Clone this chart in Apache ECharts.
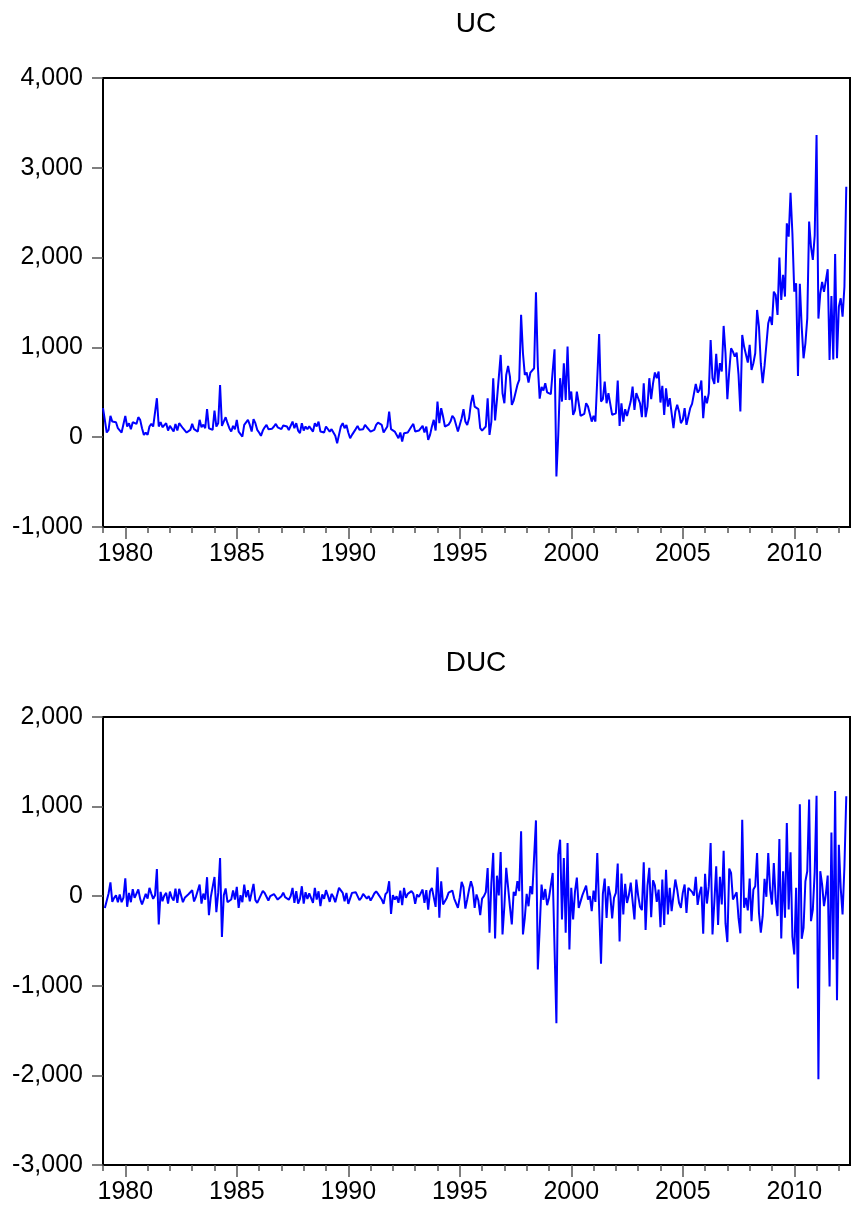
<!DOCTYPE html>
<html>
<head>
<meta charset="utf-8">
<title>UC / DUC</title>
<script src="https://cdn.jsdelivr.net/npm/echarts@6/dist/echarts.min.js"></script>
<style>
  html, body { margin: 0; padding: 0; background: #fff; }
  #chart { width: 851px; height: 1209px; }
</style>
</head>
<body>
<div id="chart"></div>
<script>
// monthly data, 1979M01 .. 2012M05
const startYear = 1979;

// UC, one row per year
const ucValues = [
  323, 190, 52, 82, 237, 174, 156, 167, 100, 119, 52, 37,
  237, 119, 156, 89, 167, 148, 148, 223, 193, 100, 26, 52,
  26, 119, 148, 119, 130, 434, 119, 167, 111, 119, 156, 74,
  126, 111, 63, 148, 74, 156, 167, 100, 82, 52, 74, 82,
  148, 89, 82, 63, 193, 111, 140, 100, 312, 100, 89, 82,
  297, 119, 156, 582, 126, 137, 223, 156, 100, 63, 126, 89,
  193, 63, 74, 7, 137, 126, 193, 137, 63, 200, 156, 82,
  52, 15, 74, 110, 137, 89, 89, 95, 119, 148, 110, 90,
  90, 130, 120, 120, 80, 82, 174, 100, 156, 74, 45, 156,
  74, 119, 89, 120, 137, 63, 156, 119, 174, 63, 82, 52,
  119, 126, 63, 89, 82, 15, -67, 26, 119, 156, 100, 137,
  52, -11, 26, 45, 90, 126, 82, 63, 89, 137, 111, 111,
  63, 52, 82, 137, 163, 174, 137, 52, 74, 119, 286, 89,
  100, 63, 63, -11, 52, -48, 45, 26, 52, 63, 119, 148,
  63, 82, 74, 52, 126, 52, 119, -30, 26, 119, 193, 74,
  397, 156, 323, 230, 119, 100, 140, 174, 237, 211, 193, 63,
  52, 211, 312, 174, 137, 211, 378, 471, 341, 360, 312, 100,
  74, 74, 119, 434, 26, 174, 657, 186, 415, 423, 916, 490,
  378, 694, 794, 675, 360, 408, 415, 582, 638, 1362, 935, 694,
  720, 608, 720, 742, 768, 1614, 796, 430, 560, 520, 600, 500,
  480, 480, 740, 979, -438, 26, 657, 397, 824, 415, 1009, 415,
  508, 249, 300, 508, 378, 237, 249, 260, 378, 341, 341, 174,
  237, 174, 657, 1150, 397, 423, 620, 378, 489, 497, 249, 230,
  267, 631, 126, 378, 174, 312, 237, 249, 400, 564, 304, 490,
  497, 378, 223, 601, 223, 341, 657, 423, 600, 720, 657, 731,
  386, 571, 249, 545, 341, 434, 267, 100, 286, 360, 286, 156,
  193, 323, 137, 230, 323, 371, 378, 594, 497, 527, 631, 211,
  460, 378, 490, 1083, 657, 594, 928, 608, 824, 731, 1239, 935,
  423, 731, 990, 953, 898, 942, 700, 286, 1139, 1009, 990, 831,
  1028, 749, 824, 935, 1417, 1232, 824, 601, 794, 787, 1269, 1343,
  1250, 1621, 1584, 1362, 2000, 1529, 1807, 1566, 2382, 2233, 2723, 2271,
  1621, 1714, 683, 1708, 1232, 879, 1046, 1324, 2402, 2123, 1974, 2243,
  3365, 1321, 1600, 1730, 1619, 1640, 1870, 861, 1572, 866, 2041, 879,
  1454, 1547, 1343, 1675, 2790
];

// DUC = D(UC), starts at 1979M02
const ducValues = [
  -133, -138, 30, 155, -63, -18, 11, -67, 19, -67, -15,
  200, -118, 37, -67, 78, -19, 0, 75, -30, -93, -74, 26,
  -26, 93, 29, -29, 11, 304, -315, 48, -56, 8, 37, -82,
  52, -15, -48, 85, -74, 82, 11, -67, -18, -30, 22, 8,
  66, -59, -7, -19, 130, -82, 29, -40, 212, -212, -11, -7,
  215, -178, 37, 426, -456, 11, 86, -67, -56, -37, 63, -37,
  104, -130, 11, -67, 130, -11, 67, -56, -74, 137, -44, -74,
  -30, -37, 59, 36, 27, -48, 0, 6, 24, 29, -38, -20,
  0, 40, -10, 0, -40, 2, 92, -74, 56, -82, -29, 111,
  -82, 45, -30, 31, 17, -74, 93, -37, 55, -111, 19, -30,
  67, 7, -63, 26, -7, -67, -82, 93, 93, 37, -56, 37,
  -85, -63, 37, 19, 45, 36, -44, -19, 26, 48, -26, 0,
  -48, -11, 30, 55, 26, 11, -37, -85, 22, 45, 167, -197,
  11, -37, 0, -74, 63, -100, 93, -19, 26, 11, 56, 29,
  -85, 19, -8, -22, 74, -74, 67, -149, 56, 93, 74, -119,
  323, -241, 167, -93, -111, -19, 40, 34, 63, -26, -18, -130,
  -11, 159, 101, -138, -37, 74, 167, 93, -130, 19, -48, -212,
  -26, 0, 45, 315, -408, 148, 483, -471, 229, 8, 493, -426,
  -112, 316, 100, -119, -315, 48, 7, 167, 56, 724, -427, -241,
  26, -112, 112, 22, 26, 846, -818, -366, 130, -40, 80, -100,
  -20, 0, 260, 239, -1417, 464, 631, -260, 427, -409, 594, -594,
  93, -259, 51, 208, -130, -141, 12, 11, 118, -37, 0, -167,
  63, -63, 483, 493, -753, 26, 197, -242, 111, 8, -248, -19,
  37, 364, -505, 252, -204, 138, -75, 12, 151, 164, -260, 186,
  7, -119, -155, 378, -378, 118, 316, -234, 177, 120, -63, 74,
  -345, 185, -322, 296, -204, 93, -167, -167, 186, 74, -74, -130,
  37, 130, -186, 93, 93, 48, 7, 216, -97, 30, 104, -420,
  249, -82, 112, 593, -426, -63, 334, -320, 216, -93, 508, -304,
  -512, 308, 259, -37, -55, 44, -242, -414, 853, -130, -19, -159,
  197, -279, 75, 111, 482, -185, -408, -223, 193, -7, 482, 74,
  -93, 371, -37, -222, 638, -471, 278, -241, 816, -149, 490, -452,
  -650, 93, -1031, 1025, -476, -353, 167, 278, 1078, -279, -149, 269,
  1122, -2044, 279, 130, -111, 21, 230, -1009, 711, -706, 1175, -1162,
  575, 93, -204, 332, 1115
];

// axis ticks
const yearTicks = [1979, 1980, 1981, 1982, 1983, 1984, 1985, 1986, 1987, 1988, 1989,
  1990, 1991, 1992, 1993, 1994, 1995, 1996, 1997, 1998, 1999, 2000, 2001, 2002,
  2003, 2004, 2005, 2006, 2007, 2008, 2009, 2010, 2011, 2012];
const yearLabels = [1980, 1985, 1990, 1995, 2000, 2005, 2010];
const ucRange = [-1000, 4000];
const ducRange = [-3000, 2000];

const font = "'Liberation Sans', Arial, sans-serif";

// month offset -> [decimal year, value]
function toPoints(values, firstMonth) {
  return values.map((v, i) => [startYear + (firstMonth + i) / 12, v]);
}

function xAxes(gridIndex) {
  return [
    {
      type: "value",
      gridIndex: gridIndex,
      min: 1979,
      max: 2012.5,
      position: "bottom",
      axisLine: { show: true, onZero: false, lineStyle: { color: "#000", width: 2 } },
      axisTick: { show: true, customValues: yearTicks, length: 6, lineStyle: { color: "#555", width: 1.5 } },
      axisLabel: { show: false },
      splitLine: { show: false },
    },
    {
      type: "value",
      gridIndex: gridIndex,
      min: 1979,
      max: 2012.5,
      position: "bottom",
      axisLine: { show: false, onZero: false },
      axisTick: { show: true, customValues: yearLabels, length: 12, lineStyle: { color: "#555", width: 1.5 } },
      axisLabel: {
        customValues: yearLabels,
        formatter: (v) => String(v),
        margin: 15,
        fontSize: 25,
        color: "#000",
        fontFamily: font,
      },
      splitLine: { show: false },
    },
  ];
}

function yAxis(gridIndex, range) {
  return {
    type: "value",
    gridIndex: gridIndex,
    min: range[0],
    max: range[1],
    interval: 1000,
    axisLine: { show: true, onZero: false, lineStyle: { color: "#000", width: 2 } },
    axisTick: { show: true, length: 11, lineStyle: { color: "#555", width: 1.5 } },
    axisLabel: {
      margin: 20,
      fontSize: 25,
      color: "#000",
      fontFamily: font,
      formatter: (v) => v.toLocaleString("en-US"),
    },
    splitLine: { show: false },
  };
}

const myChart = echarts.init(document.getElementById("chart"));

const option = {
  animation: false,
  backgroundColor: "#fff",
  title: [
    {
      text: "UC",
      left: 476,
      top: 10,
      textAlign: "center",
      padding: 0,
      textStyle: { fontSize: 28, fontWeight: "normal", color: "#000", fontFamily: font },
    },
    {
      text: "DUC",
      left: 476,
      top: 649,
      textAlign: "center",
      padding: 0,
      textStyle: { fontSize: 28, fontWeight: "normal", color: "#000", fontFamily: font },
    },
  ],
  grid: [
    { left: 103, right: 1, top: 78, height: 449, show: true, borderColor: "#000", borderWidth: 2 },
    { left: 103, right: 1, top: 717, height: 448, show: true, borderColor: "#000", borderWidth: 2 },
  ],
  xAxis: [...xAxes(0), ...xAxes(1)],
  yAxis: [yAxis(0, ucRange), yAxis(1, ducRange)],
  series: [
    {
      name: "UC",
      type: "line",
      xAxisIndex: 0,
      yAxisIndex: 0,
      showSymbol: false,
      lineStyle: { color: "#0000ff", width: 2 },
      data: toPoints(ucValues, 0),
    },
    {
      name: "DUC",
      type: "line",
      xAxisIndex: 2,
      yAxisIndex: 1,
      showSymbol: false,
      lineStyle: { color: "#0000ff", width: 2 },
      data: toPoints(ducValues, 1),
    },
  ],
};

myChart.setOption(option);
</script>
</body>
</html>
